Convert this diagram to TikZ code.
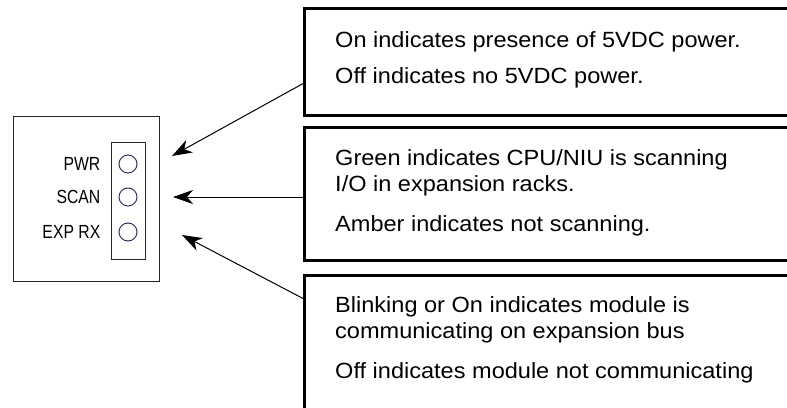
\documentclass[tikz,border=0pt]{standalone}
\usepackage{fontspec}
\setmainfont{Liberation Sans}
\usetikzlibrary{arrows.meta, positioning}

\definecolor{ledblue}{RGB}{51,51,102}

\tikzset{
  notebox/.style={draw, line width=3pt, outer sep=0pt, anchor=north west, minimum width=520pt},
  notetext/.style={anchor=base west, inner sep=0pt, xscale=1.07, font=\fontsize{22}{26}\selectfont},
  ledlabel/.style={inner sep=0pt, xscale=0.83, font=\fontsize{19}{22}\selectfont},
  led/.style={circle, draw=ledblue, line width=1pt, minimum size=18pt, inner sep=0pt},
  pointer/.style={-{Stealth[length=20pt,width=14pt,inset=6pt]}, line width=1pt}
}

\begin{document}
\begin{tikzpicture}[x=1pt, y=-1pt]
  \useasboundingbox (0,0) rectangle (787,407);
  \clip (0,0) rectangle (787,407);
  % module face and LED strip
  \draw[line width=1pt, black!85] (13,116) rectangle (159,281);
  \draw[line width=1pt, black!85] (111,142) rectangle (145,259);
  \foreach \lbl/\y [count=\i] in {PWR/164, SCAN/197, EXP RX/232} {
    \node[led] (led-\i) at (128,\y) {};
    \node[ledlabel, left=18pt of led-\i] (lbl-\i) {\lbl};
  }
  % note boxes
  \node[notebox, minimum height=107pt] (pwr-box) at (304,8) {};
  \node[notebox, minimum height=133pt] (scan-box) at (304,127) {};
  \node[notebox, minimum height=200pt] (exp-box) at (304,275) {};
  \foreach \y/\txt [count=\i] in {47/{On indicates presence of 5VDC power.},
      83/{Off indicates no 5VDC power.},
      165/{Green indicates CPU/NIU is scanning}, 191/{I/O in expansion racks.},
      231/{Amber indicates not scanning.},
      312/{Blinking or On indicates module is}, 338/{communicating on expansion bus},
      378/{Off indicates module not communicating}}
    \node[notetext] (note-\i) at (335,\y) {\txt};
  % pointers
  \coordinate (pwr-tip) at (172,156);
  \coordinate (scan-tip) at (173,197);
  \coordinate (exp-tip) at (182,235);
  \draw[pointer] ([yshift=-21.5pt]pwr-box.west) -- (pwr-tip);
  \draw[pointer] ([yshift=-3.5pt]scan-box.west) -- (scan-tip);
  \draw[pointer] ([yshift=76pt]exp-box.west) -- (exp-tip);
\end{tikzpicture}
\end{document}
